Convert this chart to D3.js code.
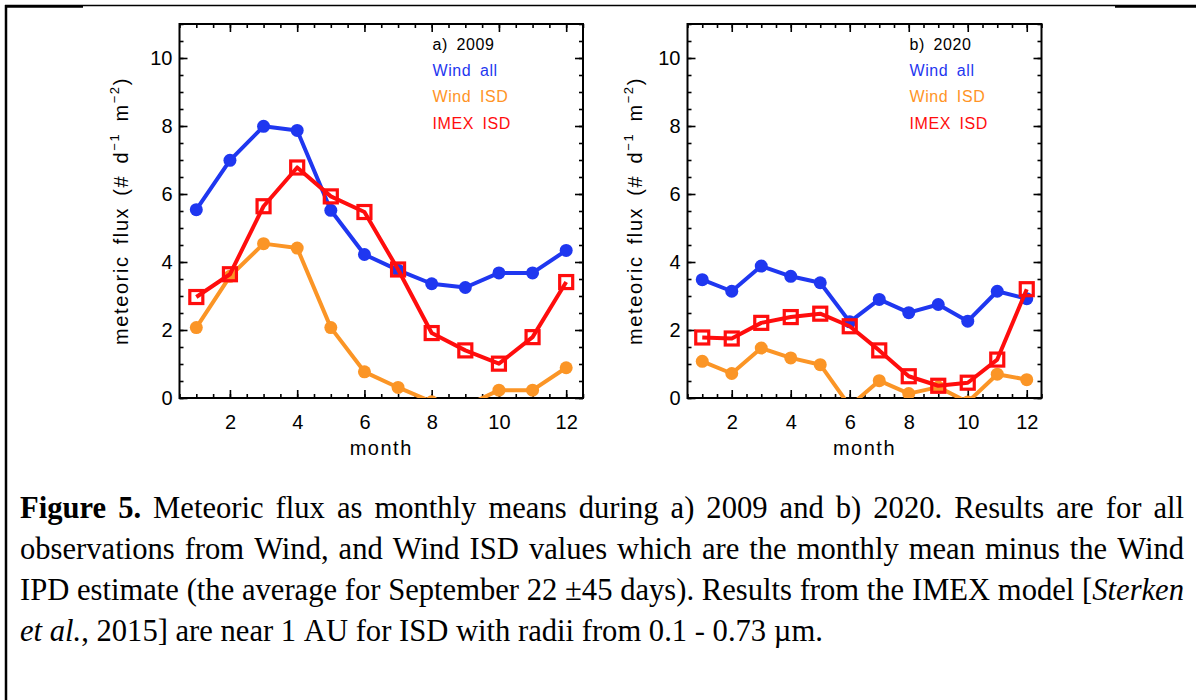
<!DOCTYPE html>
<html>
<head>
<meta charset="utf-8">
<script src="https://cdn.jsdelivr.net/npm/d3@7"></script>
<style>
body { margin: 0; background: #fff; }
svg text { font-family: "Liberation Sans", Arial, sans-serif; }
</style>
</head>
<body>
<svg id="fig" width="1196" height="700"></svg>
<script>
// monthly means
const months = [1, 2, 3, 4, 5, 6, 7, 8, 9, 10, 11, 12];

const wind2009    = [5.54, 6.99, 7.99, 7.87, 5.52, 4.22, 3.76, 3.36, 3.25, 3.68, 3.68, 4.34];
const windIsd2009 = [2.07, 3.58, 4.54, 4.41, 2.07, 0.77, 0.31, -0.11, -0.24, 0.23, 0.23, 0.89];
const imex2009    = [2.97, 3.64, 5.64, 6.78, 5.93, 5.47, 3.78, 1.91, 1.40, 1.01, 1.79, 3.41];

const wind2020    = [3.48, 3.14, 3.88, 3.58, 3.39, 2.24, 2.90, 2.51, 2.75, 2.26, 3.14, 2.92];
const windIsd2020 = [1.08, 0.72, 1.47, 1.18, 0.98, -0.24, 0.51, 0.13, 0.32, -0.12, 0.70, 0.54];
const imex2020    = [1.78, 1.75, 2.21, 2.38, 2.48, 2.11, 1.40, 0.64, 0.36, 0.45, 1.13, 3.20];

const seriesNames = ["Wind all", "Wind ISD", "IMEX ISD"];
const panelLabels = ["a) 2009", "b) 2020"];
const xTicks = [2, 4, 6, 8, 10, 12];
const yTicks = [0, 2, 4, 6, 8, 10];

const colors = ["#1f37f0", "#fb9526", "#ff0d0d"];
const markers = ["circle", "circle", "square"];

let svg = d3.select("#fig");

// frame around the figure
svg.append("line").attr("x1", 5).attr("x2", 1196).attr("y1", 5.5).attr("y2", 5.5)
	.attr("stroke", "#000").attr("stroke-width", 1.5);
svg.append("line").attr("x1", 5).attr("x2", 83).attr("y1", 6.5).attr("y2", 6.5)
	.attr("stroke", "#000").attr("stroke-width", 2.5);
svg.append("line").attr("x1", 1115).attr("x2", 1196).attr("y1", 6.5).attr("y2", 6.5)
	.attr("stroke", "#000").attr("stroke-width", 2.5);
svg.append("line").attr("x1", 6).attr("x2", 6).attr("y1", 5).attr("y2", 700)
	.attr("stroke", "#000").attr("stroke-width", 2.5);

let panels = [
	{label: panelLabels[0], series: [wind2009, windIsd2009, imex2009], left: 179.5, right: 583, titleX: 128},
	{label: panelLabels[1], series: [wind2020, windIsd2020, imex2020], left: 687.5, right: 1041.5, titleX: 641.5}
];
let plotTop = 24, plotBottom = 398;

panels.forEach(function(p, pi){
	let g = svg.append("g");

	let xScale = d3.scaleLinear().domain([0.5, 12.5]).range([p.left, p.right]);
	let yScale = d3.scaleLinear().domain([0, 11]).range([plotBottom, plotTop]);

	let clipId = "clip" + pi;
	svg.append("clipPath").attr("id", clipId)
		.append("rect")
		.attr("x", p.left).attr("y", plotTop)
		.attr("width", p.right - p.left).attr("height", plotBottom - plotTop);

	let xMinor = d3.range(0.5, 12.51, 0.5);
	let yMinor = d3.range(0, 11.01, 0.5);

	// ticks point inward on all four sides
	function addAxis(axisFn, scale, transform, major, minor, labels){
		let a = g.append("g").attr("class", "axis").attr("transform", transform)
			.call(axisFn(scale).tickValues(minor).tickSize(-4).tickFormat(""));
		a.select(".domain").remove();
		let b = g.append("g").attr("class", "axis").attr("transform", transform)
			.call(axisFn(scale).tickValues(major).tickSize(-8).tickPadding(axisFn === d3.axisBottom ? 17 : 7)
				.tickFormat(labels ? d3.format("d") : ""));
		b.select(".domain").remove();
		b.selectAll("text").attr("font-size", 20).attr("fill", "#000")
			.style("font-family", '"Liberation Sans", Arial, sans-serif');
	}
	addAxis(d3.axisBottom, xScale, "translate(0," + plotBottom + ")", xTicks, xMinor, true);
	addAxis(d3.axisTop, xScale, "translate(0," + plotTop + ")", xTicks, xMinor, false);
	addAxis(d3.axisLeft, yScale, "translate(" + p.left + ",0)", yTicks, yMinor, true);
	addAxis(d3.axisRight, yScale, "translate(" + p.right + ",0)", yTicks, yMinor, false);
	g.selectAll(".tick line").attr("stroke", "#000").attr("stroke-width", 1.6);

	g.append("rect")
		.attr("x", p.left).attr("y", plotTop)
		.attr("width", p.right - p.left).attr("height", plotBottom - plotTop)
		.attr("fill", "none").attr("stroke", "#000").attr("stroke-width", 2);

	// axis titles
	g.append("text")
		.attr("x", (p.left + p.right) / 2).attr("y", 455)
		.attr("text-anchor", "middle").attr("font-size", 20)
		.attr("letter-spacing", "1.5px")
		.text("month");

	let yt = g.append("text")
		.attr("transform", "translate(" + p.titleX + "," + ((plotTop + plotBottom) / 2) + ") rotate(-90)")
		.attr("text-anchor", "middle").attr("font-size", 20)
		.attr("letter-spacing", "1.6px").attr("word-spacing", "4px");
	yt.append("tspan").text("meteoric flux (# d");
	yt.append("tspan").attr("font-size", 13).attr("dy", -9).text("\u22121");
	yt.append("tspan").attr("dy", 9).text(" m");
	yt.append("tspan").attr("font-size", 13).attr("dy", -9).text("\u22122");
	yt.append("tspan").attr("dy", 9).text(")");

	// lines and markers
	let plot = g.append("g").attr("clip-path", "url(#" + clipId + ")");
	let valueline = d3.line()
		.x(function(d, i){ return xScale(months[i]); })
		.y(function(d){ return yScale(d); });

	p.series.forEach(function(vals, si){
		plot.append("path")
			.datum(vals)
			.attr("d", valueline)
			.attr("fill", "none")
			.attr("stroke", colors[si])
			.attr("stroke-width", 4)
			.attr("stroke-linejoin", "round");

		if (markers[si] === "circle") {
			plot.selectAll(".dot" + si)
				.data(vals).enter().append("circle")
				.attr("cx", function(d, i){ return xScale(months[i]); })
				.attr("cy", function(d){ return yScale(d); })
				.attr("r", 6.5)
				.attr("fill", colors[si]);
		} else {
			plot.selectAll(".sq" + si)
				.data(vals).enter().append("rect")
				.attr("x", function(d, i){ return xScale(months[i]) - 6.5; })
				.attr("y", function(d){ return yScale(d) - 6.5; })
				.attr("width", 13).attr("height", 13)
				.attr("fill", "none")
				.attr("stroke", colors[si]).attr("stroke-width", 3.2);
		}
	});

	// legend
	let lx = p.left + 0.627 * (p.right - p.left);
	let legendRows = [p.label].concat(seriesNames);
	let legendColors = ["#000", "#1f37f0", "#ff9426", "#ff0d0d"];
	let legendY = [50, 76, 102, 128.5];
	legendRows.forEach(function(t, i){
		g.append("text")
			.attr("x", lx).attr("y", legendY[i])
			.attr("font-size", 16)
			.attr("letter-spacing", "0.6px").attr("word-spacing", "3.5px")
			.attr("fill", legendColors[i])
			.text(t);
	});
});

// caption, justified word by word
let captionLines = [
	[{s: "Figure 5.", f: "b"}, {s: " Meteoric flux as monthly means during a) 2009 and b) 2020. Results are for all", f: ""}],
	[{s: "observations from Wind, and Wind ISD values which are the monthly mean minus the Wind", f: ""}],
	[{s: "IPD estimate (the average for September 22 \u00b145 days). Results from the IMEX model [", f: ""}, {s: "Sterken", f: "i"}],
	[{s: "et al.", f: "i"}, {s: ", 2015] are near 1 AU for ISD with radii from 0.1 - 0.73 \u00b5m.", f: ""}]
];
let captionY = [518, 559, 600, 641];
let capLeft = 20, capRight = 1184, capSize = 30.6;

function toWords(pieces){
	let words = [], cur = null;
	pieces.forEach(function(p){
		p.s.split(/( )/).forEach(function(tok){
			if (tok === " ") { cur = null; return; }
			if (tok === "") return;
			if (!cur) { cur = []; words.push(cur); }
			cur.push({s: tok, f: p.f});
		});
	});
	return words;
}

let cap = svg.append("g").attr("class", "caption");
captionLines.forEach(function(line, li){
	let words = toWords(line);
	let nodes = words.map(function(w){
		let t = cap.append("text")
			.attr("y", captionY[li])
			.attr("font-size", capSize)
			.style("font-family", '"Liberation Serif", "Times New Roman", serif')
			.attr("fill", "#000");
		w.forEach(function(piece){
			t.append("tspan")
				.attr("font-weight", piece.f === "b" ? "bold" : "normal")
				.attr("font-style", piece.f === "i" ? "italic" : "normal")
				.text(piece.s);
		});
		return t;
	});
	let widths = nodes.map(function(t){ return t.node().getComputedTextLength(); });
	let total = d3.sum(widths);
	let last = li === captionLines.length - 1;
	let gap = last ? capSize * 0.25 : Math.max(3, (capRight - capLeft - total) / (nodes.length - 1));
	let x = capLeft;
	nodes.forEach(function(t, i){
		t.attr("x", x);
		x += widths[i] + gap;
	});
});
</script>
</body>
</html>
